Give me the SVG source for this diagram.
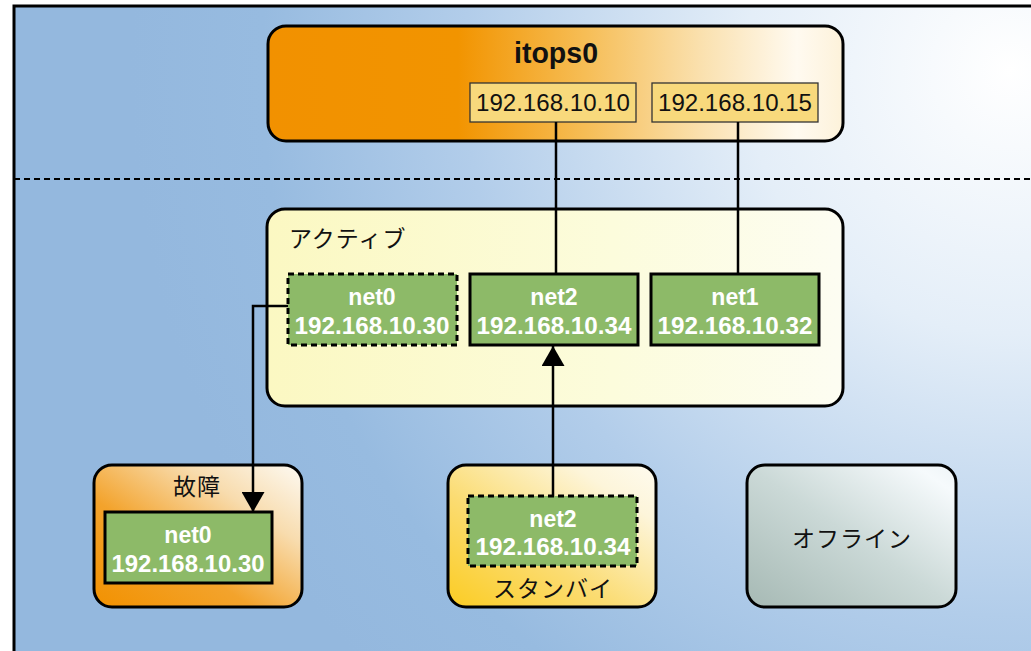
<svg xmlns="http://www.w3.org/2000/svg" width="1031" height="651" viewBox="0 0 1031 651">
  <defs>
    <radialGradient id="bg" cx="1010" cy="70" r="880" gradientUnits="userSpaceOnUse">
      <stop offset="0" stop-color="#ffffff"/>
      <stop offset="0.3" stop-color="#e4eef8"/>
      <stop offset="0.62" stop-color="#b2cdea"/>
      <stop offset="0.85" stop-color="#97bbe0"/>
      <stop offset="1" stop-color="#94b8de"/>
    </radialGradient>
    <linearGradient id="gItops" x1="0" y1="0" x2="1" y2="0">
      <stop offset="0" stop-color="#f29100"/>
      <stop offset="0.33" stop-color="#f29400"/>
      <stop offset="0.55" stop-color="#f6bd55"/>
      <stop offset="0.75" stop-color="#fae0ad"/>
      <stop offset="0.92" stop-color="#fffaf0"/>
      <stop offset="1" stop-color="#fdf2da"/>
    </linearGradient>
    <linearGradient id="gActive" x1="0" y1="0" x2="1" y2="0">
      <stop offset="0" stop-color="#fbf8c2"/>
      <stop offset="0.6" stop-color="#fcfcdc"/>
      <stop offset="1" stop-color="#fdfdf2"/>
    </linearGradient>
    <linearGradient id="gFailed" x1="0" y1="1" x2="1" y2="0">
      <stop offset="0" stop-color="#f29100"/>
      <stop offset="0.38" stop-color="#f3a32c"/>
      <stop offset="0.72" stop-color="#f8dcae"/>
      <stop offset="1" stop-color="#fdfaf3"/>
    </linearGradient>
    <linearGradient id="gStandby" x1="0" y1="1" x2="1" y2="0">
      <stop offset="0" stop-color="#fbcc22"/>
      <stop offset="0.4" stop-color="#fbdc72"/>
      <stop offset="0.8" stop-color="#fdf5da"/>
      <stop offset="1" stop-color="#fefbef"/>
    </linearGradient>
    <linearGradient id="gOffline" x1="0" y1="1" x2="1" y2="0">
      <stop offset="0" stop-color="#a6b9b4"/>
      <stop offset="0.5" stop-color="#cbd9d7"/>
      <stop offset="0.9" stop-color="#f6fafc"/>
      <stop offset="1" stop-color="#eef4f7"/>
    </linearGradient>
    <marker id="arrow" markerWidth="20" markerHeight="23" refX="20" refY="11.5" orient="auto" markerUnits="userSpaceOnUse" viewBox="0 0 20 23">
      <path d="M0,0 L20,11.5 L0,23 Z" fill="#000"/>
    </marker>
  </defs>
  <style>
    .group { stroke: #000; stroke-width: 3; }
    .nic { fill: #8dba68; stroke: #000; stroke-width: 3; }
    .nic.dashed { stroke-dasharray: 6 4; }
    .addr { fill: #f8d97c; stroke: #333; stroke-width: 1.3; }
    .nicText { font-family: "Liberation Sans", Arial, sans-serif; font-weight: bold; font-size: 23px; fill: #fff; text-anchor: middle; }
    .addrText { font-family: "Liberation Sans", Arial, sans-serif; font-size: 24px; fill: #111; text-anchor: middle; }
    .jp { font-family: "Noto Sans CJK JP", "Liberation Sans", sans-serif; font-size: 23px; fill: #111; letter-spacing: 1px; }
    .wire { fill: none; stroke: #000; stroke-width: 2.5; }
  </style>

  <!-- page background and frame -->
  <rect x="0" y="0" width="1031" height="651" fill="#ffffff"/>
  <rect x="14" y="6" width="1030" height="660" fill="url(#bg)" stroke="#000" stroke-width="3"/>
  <line x1="14" y1="179" x2="1031" y2="179" stroke="#000" stroke-width="2" stroke-dasharray="6 4"/>

  <!-- IPMP interface itops0 -->
  <g id="itops0">
    <rect class="group" x="268" y="26" width="575" height="115" rx="18" fill="url(#gItops)"/>
    <text x="556" y="63" font-family="Liberation Sans, Arial, sans-serif" font-weight="bold" font-size="29" text-anchor="middle" fill="#111" textLength="84" lengthAdjust="spacingAndGlyphs">itops0</text>
  </g>
  <g id="addr-10">
    <rect class="addr" x="470" y="83" width="166" height="39"/>
    <text class="addrText" x="553" y="111" textLength="154" lengthAdjust="spacingAndGlyphs">192.168.10.10</text>
  </g>
  <g id="addr-15">
    <rect class="addr" x="652" y="83" width="166" height="39"/>
    <text class="addrText" x="735" y="111" textLength="154" lengthAdjust="spacingAndGlyphs">192.168.10.15</text>
  </g>

  <!-- active group -->
  <g id="active">
    <rect class="group" x="267" y="209" width="576" height="197" rx="18" fill="url(#gActive)"/>
    <text class="jp" x="289" y="247">アクティブ</text>
  </g>
  <g id="active-net0">
    <rect class="nic dashed" x="288" y="274" width="169" height="71"/>
    <text class="nicText" x="372" y="305">net0</text>
    <text class="nicText" x="372" y="334" textLength="155" lengthAdjust="spacingAndGlyphs">192.168.10.30</text>
  </g>
  <g id="active-net2">
    <rect class="nic" x="470" y="274" width="168" height="71"/>
    <text class="nicText" x="554" y="305">net2</text>
    <text class="nicText" x="554" y="334" textLength="155" lengthAdjust="spacingAndGlyphs">192.168.10.34</text>
  </g>
  <g id="active-net1">
    <rect class="nic" x="651" y="274" width="168" height="71"/>
    <text class="nicText" x="735" y="305">net1</text>
    <text class="nicText" x="735" y="334" textLength="155" lengthAdjust="spacingAndGlyphs">192.168.10.32</text>
  </g>

  <!-- failed group -->
  <g id="failed">
    <rect class="group" x="94" y="465" width="208" height="142" rx="18" fill="url(#gFailed)"/>
    <text class="jp" x="197" y="495" text-anchor="middle">故障</text>
  </g>
  <g id="failed-net0">
    <rect class="nic" x="105" y="512" width="167" height="71"/>
    <text class="nicText" x="188" y="543">net0</text>
    <text class="nicText" x="188" y="572" textLength="153" lengthAdjust="spacingAndGlyphs">192.168.10.30</text>
  </g>

  <!-- standby group -->
  <g id="standby">
    <rect class="group" x="448" y="465" width="208" height="142" rx="18" fill="url(#gStandby)"/>
    <text class="jp" x="553" y="597" text-anchor="middle">スタンバイ</text>
  </g>
  <g id="standby-net2">
    <rect class="nic dashed" x="468" y="496" width="169" height="70"/>
    <text class="nicText" x="553" y="527">net2</text>
    <text class="nicText" x="553" y="555" textLength="155" lengthAdjust="spacingAndGlyphs">192.168.10.34</text>
  </g>

  <!-- offline group -->
  <g id="offline">
    <rect class="group" x="747" y="465" width="209" height="142" rx="18" fill="url(#gOffline)"/>
    <text class="jp" x="852" y="547" text-anchor="middle">オフライン</text>
  </g>

  <!-- connectors -->
  <g id="connectors">
    <line class="wire" x1="556" y1="122" x2="556" y2="274"/>
    <line class="wire" x1="738" y1="122" x2="738" y2="274"/>
    <polyline class="wire" points="288,306 253,306 253,512" marker-end="url(#arrow)"/>
    <line class="wire" x1="553" y1="496" x2="553" y2="346" marker-end="url(#arrow)"/>
  </g>
</svg>
